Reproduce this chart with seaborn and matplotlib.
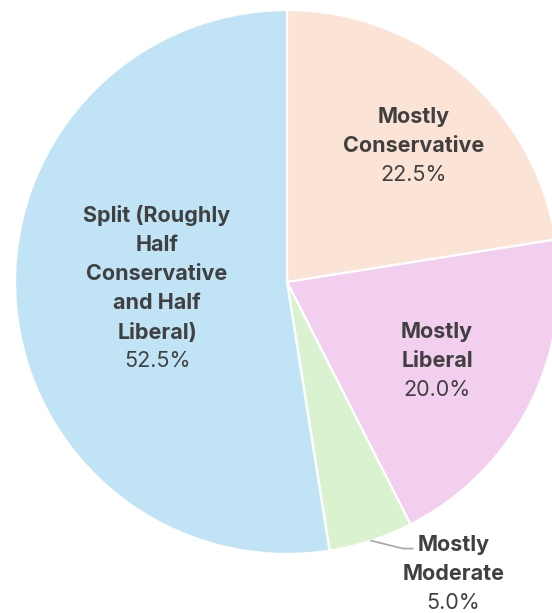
import numpy as np
import matplotlib.pyplot as plt
import seaborn as sns

categories = ['Mostly\nConservative', 'Mostly\nLiberal', 'Mostly\nModerate',
              'Split (Roughly\nHalf\nConservative\nand Half\nLiberal)']
shares = [22.5, 20.0, 5.0, 52.5]
colors = ['#FBE3D6', '#F2CEEF', '#DAF2D0', '#C0E4F5']
# label centres (pie units), moderate sits outside with a leader line
label_xy = [(0.467, 0.50), (0.552, -0.292), (0.612, -1.072), (-0.478, -0.023)]

sns.set_theme(style='white')
plt.rcParams['font.family'] = ['Inter', 'DejaVu Sans']

fig = plt.figure(figsize=(5.52, 6.13), dpi=100)
ax = fig.add_axes([0, 0, 1, 1])

wedges, _ = ax.pie(shares, colors=colors, startangle=90, counterclock=False,
                   radius=1, wedgeprops=dict(edgecolor='white', linewidth=1.6))

txt_color = '#404040'
fs = 15.5
ls = 1.57
line_pt = 29 * 72 / 100  # line height in points

for w, name, val, (cx, cy) in zip(wedges, categories, shares, label_xy):
    n = name.count('\n') + 1
    if cy < -1:
        mid = np.deg2rad((w.theta1 + w.theta2) / 2)
        x0, y0 = np.cos(mid), np.sin(mid)
        ax.plot([x0, 0.426, 0.463], [y0, -0.98, -0.98], color='#A6A6A6', lw=1.2)
    ax.annotate(name, (cx, cy), xytext=(0, line_pt / 2), textcoords='offset points',
                ha='center', va='center', fontsize=fs, fontweight='bold',
                color=txt_color, linespacing=ls)
    ax.annotate(f'{val:.1f}%', (cx, cy), xytext=(0, -n * line_pt / 2),
                textcoords='offset points', ha='center', va='center',
                fontsize=fs, color=txt_color)

ax.set_xlim(-1.055, 0.974)
ax.set_ylim(-1.217, 1.037)
ax.set_aspect('equal')
ax.axis('off')

fig.savefig('out.png', dpi=100)
